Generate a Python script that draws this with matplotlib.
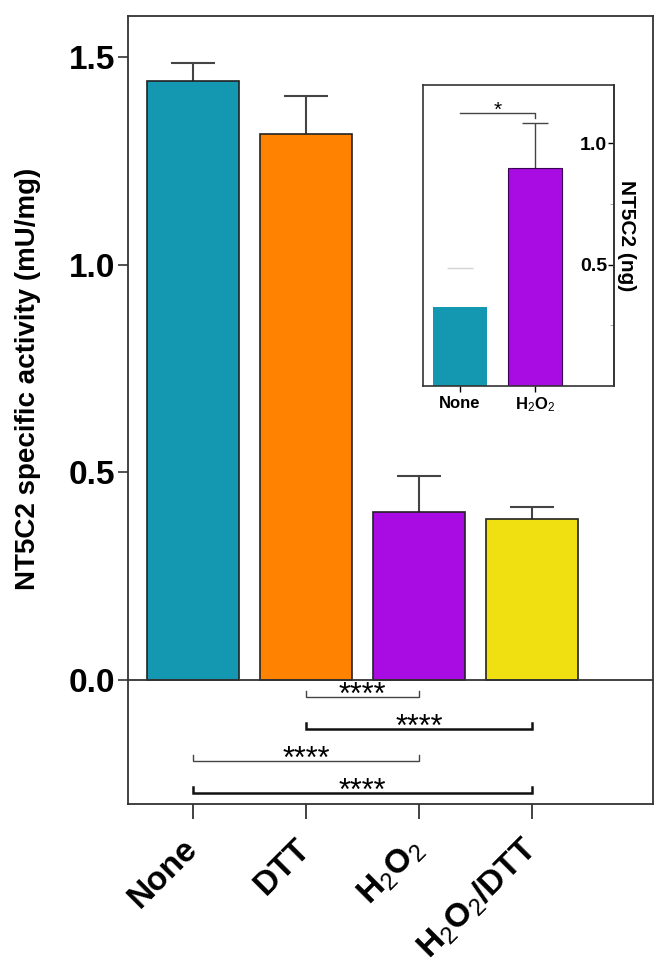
import numpy as np
import matplotlib
matplotlib.use('Agg')
import matplotlib.pyplot as plt
from matplotlib.transforms import ScaledTranslation

plt.rcParams['font.family'] = ['Liberation Sans', 'DejaVu Sans']
plt.rcParams['mathtext.fontset'] = 'custom'
plt.rcParams['mathtext.rm'] = 'Liberation Sans'
plt.rcParams['mathtext.default'] = 'rm'

# data
groups = ['None', 'DTT', 'H$_2$O$_2$', 'H$_2$O$_2$/DTT']
activity = [1.443, 1.315, 0.404, 0.388]
activity_err = [0.043, 0.091, 0.086, 0.028]
bar_colors = ['#1497B0', '#FF8200', '#A80CE3', '#F0E012']

# significance brackets (group index pairs, level, label)
sig_pairs = [(1, 2), (1, 3), (0, 2), (0, 3)]
sig_levels = [-0.043, -0.120, -0.197, -0.274]
sig_labels = ['****', '****', '****', '****']
sig_widths = [1.0, 1.8, 1.0, 1.8]
sig_colors = ['#444444', '#111111', '#444444', '#111111']

# inset data
inset_groups = ['None', 'H$_2$O$_2$']
inset_vals = [0.324, 0.898]
inset_err = [0.164, 0.184]
inset_colors = ['#1497B0', '#A80CE3']

fig = plt.figure(figsize=(6.7, 9.8), dpi=100)
ax = fig.add_axes([128/670, 1-804/980, 525/670, 788/980])

x = np.arange(len(groups))
ax.bar(x, activity, width=0.82, color=bar_colors, edgecolor='#222222', linewidth=1.2, zorder=2)
top = np.array(activity) + np.array(activity_err)
ax.vlines(x, activity, top, color='#444444', lw=1.5, zorder=1)
ax.plot(x, top, ls='none', marker='_', ms=32, mew=1.5, color='#444444', zorder=1)
ax.axhline(0, color='#333333', lw=1.3, zorder=3)

for (a, b), lev, lab, lw, c in zip(sig_pairs, sig_levels, sig_labels, sig_widths, sig_colors):
    ax.plot([a, a, b, b], [lev + 0.015, lev, lev, lev + 0.015], color=c, lw=lw, solid_joinstyle='miter')
    ax.text((a + b) / 2, lev - 0.016, lab, ha='center', va='baseline', fontsize=22)

ax.set_xlim(-0.575, 4.07)
ax.set_ylim(-0.3, 1.6)
ax.set_yticks([0.0, 0.5, 1.0, 1.5])
ax.set_yticklabels(['0.0', '0.5', '1.0', '1.5'], fontsize=24, fontweight='bold')
ax.set_xticks(x)
ax.set_xticklabels(groups, fontsize=24, fontweight='bold', rotation=45, ha='right',
                   va='center', rotation_mode='anchor')
shift = ScaledTranslation(8/100, 0, fig.dpi_scale_trans)
for lab in ax.get_xticklabels():
    lab.set_transform(lab.get_transform() + shift)
ax.tick_params(axis='y', length=7, width=1.2, color='#333333', pad=2)
ax.tick_params(axis='x', length=11, width=1.3, color='#333333', pad=18)
for s in ax.spines.values():
    s.set_color('#333333')
    s.set_linewidth(1.3)

fig.text(28/670, 1-379/980, 'NT5C2 specific activity (mU/mg)', rotation=90,
         ha='center', va='center', fontsize=20, fontweight='bold')

# inset
axi = fig.add_axes([423/670, 1-386/980, 191/670, 301/980])
xi = np.arange(len(inset_groups))
axi.bar(xi, inset_vals, width=0.71, color=inset_colors,
        edgecolor=['none', '#3a0050'], linewidth=0.8, zorder=2)
itop = np.array(inset_vals) + np.array(inset_err)
stem_cols = ['#ffffff', '#444444']
cap_cols = ['#d4d4d4', '#444444']
axi.vlines(xi, inset_vals, itop, colors=stem_cols, lw=1.0, zorder=1)
for xx, yy, c in zip(xi, itop, cap_cols):
    axi.plot(xx, yy, ls='none', marker='_', ms=19, mew=1.0, color=c)
axi.plot([0, 1, 1], [1.123, 1.123, 1.103], color='#444444', lw=1.0)
axi.text(0.5, 1.112, '*', ha='center', va='baseline', fontsize=15)

axi.set_xlim(-0.49, 2.05)
axi.set_ylim(0, 1.24)
axi.spines['left'].set_position(('axes', 1.0))
axi.plot([0, 0], [0, 1], transform=axi.transAxes, color='#333333', lw=1.2, clip_on=False)
for s in axi.spines.values():
    s.set_color('#333333')
    s.set_linewidth(1.2)
axi.set_yticks([0.5, 1.0])
axi.set_yticklabels(['0.5', '1.0'], fontsize=14, fontweight='bold')
axi.set_yticks([0.25, 0.75], minor=True)
axi.tick_params(axis='y', which='major', length=4, width=1.0, pad=1)
axi.tick_params(axis='y', which='minor', length=3, width=0.6, color='#999999')
axi.set_xticks(xi)
axi.set_xticklabels(inset_groups, fontsize=12, fontweight='bold')
axi.tick_params(axis='x', length=4, width=1.0, pad=3)
axi.text(1.068, 0.5, 'NT5C2 (ng)', transform=axi.transAxes, rotation=270,
         ha='center', va='center', fontsize=15, fontweight='bold')

fig.savefig('out.png', dpi=100)
